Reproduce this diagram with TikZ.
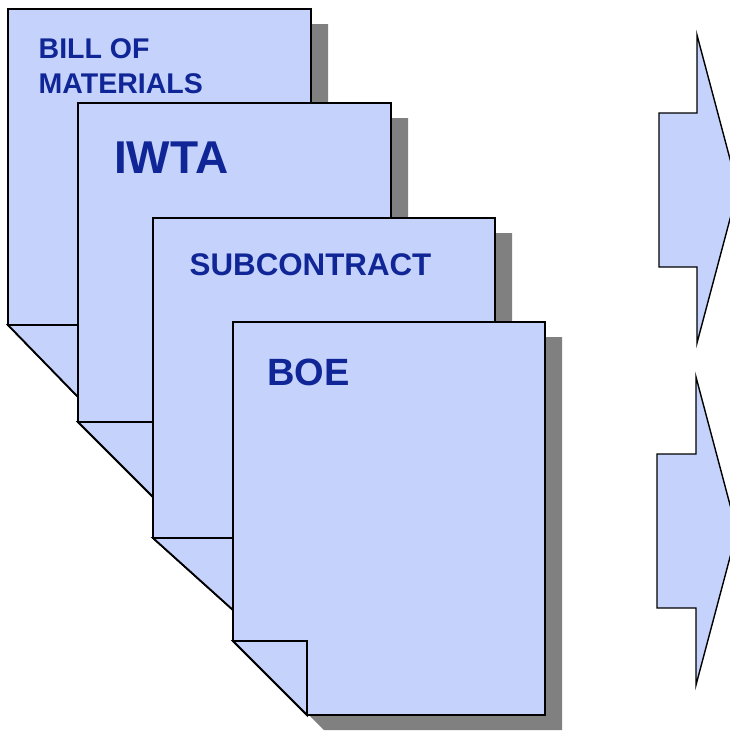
\documentclass[tikz,border=0pt]{standalone}
\usepackage{fontspec}
\setmainfont{Liberation Sans}
\definecolor{sheetfill}{RGB}{197,211,252}
\definecolor{labelblue}{RGB}{16,38,150}
\definecolor{dropgray}{RGB}{128,128,128}
\tikzset{
  sheet/.style={fill=sheetfill, draw=black, line width=1.8pt, line join=miter},
  dropshadow/.style={fill=dropgray},
  sheetlabel/.style={text=labelblue, inner sep=0pt, anchor=base west, font=\bfseries},
  flowarrow/.style={fill=sheetfill, draw=black, line width=1.4pt, line join=miter},
}
% \docsheet{left}{top}{right}{bottom}{fold width}{fold height}: a page with a dog-eared lower left corner
\newcommand\docsheet[6]{%
  \fill[dropshadow] ({#1+17},{-(#2)-15}) -- ({#3+17},{-(#2)-15}) -- ({#3+17},{-(#4)-15})
     -- ({#1+#5+17},{-(#4)-15}) -- ({#1+17},{-(#4)+#6-15}) -- cycle;
  \draw[sheet] (#1,{-(#2)}) -- (#3,{-(#2)}) -- (#3,{-(#4)}) -- ({#1+#5},{-(#4)})
     -- (#1,{-(#4)+#6}) -- cycle;
  \draw[sheet] (#1,{-(#4)+#6}) -- ({#1+#5},{-(#4)+#6}) -- ({#1+#5},{-(#4)}) -- cycle;
}
\begin{document}
\begin{tikzpicture}[x=1pt,y=1pt]
  \useasboundingbox (0,0) rectangle (730,-731);
  \clip (0,0) rectangle (730,-731);

  % stacked pages, back to front
  \docsheet{8}{9}{311}{398}{71}{73}
  \node[sheetlabel, font=\bfseries\fontsize{28.5}{35.5}\selectfont] (bom) at (38.5,-58)
    {\begin{tabular}[t]{@{}l@{}}BILL OF\\MATERIALS\end{tabular}};

  \docsheet{78}{103}{391}{497}{75}{75}
  \node[sheetlabel, font=\bfseries\fontsize{46}{50}\selectfont] (iwta) at (114,-173) {IWTA};

  \docsheet{153}{218}{495}{610}{80}{72}
  \node[sheetlabel, font=\bfseries\fontsize{31.3}{36}\selectfont] (subc) at (189.5,-275) {SUBCONTRACT};

  \docsheet{233}{322}{545}{715}{74}{74}
  \node[sheetlabel, font=\bfseries\fontsize{38}{42}\selectfont] (boe) at (267,-385) {BOE};

  % block arrows on the right
  \draw[flowarrow] (659,-113) -- (697,-113) -- (697,-35) -- (738,-189) -- (697,-343)
     -- (697,-267) -- (659,-267) -- cycle;
  \draw[flowarrow] (657,-454) -- (696,-454) -- (696,-377) -- (737,-531) -- (696,-685)
     -- (696,-608) -- (657,-608) -- cycle;
\end{tikzpicture}
\end{document}
